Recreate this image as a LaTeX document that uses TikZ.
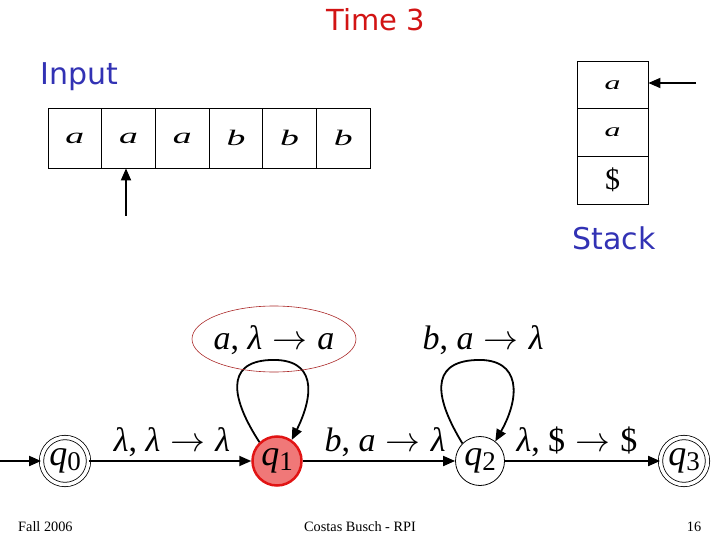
\documentclass[tikz,border=0pt]{standalone}
\usepackage{fontspec}
\usetikzlibrary{arrows.meta,shapes.geometric}
\newfontfamily\titlefont{DejaVu Sans}
\newfontfamily\serif{Liberation Serif}
\definecolor{titlered}{RGB}{210,20,20}
\definecolor{labelblue}{RGB}{50,50,180}
\definecolor{statefill}{RGB}{240,120,120}
\definecolor{stateborder}{RGB}{225,20,20}
\definecolor{ellred}{RGB}{170,40,40}
\newcommand{\tl}[1]{\scalebox{1.45}[0.85]{\itshape #1}}
\newcommand{\qs}[1]{{\itshape q}\raisebox{-0.3ex}{\fontsize{27}{27}\selectfont #1}}
\newcommand{\ar}{\hspace{0.3em}\scalebox{1.4}{\fontsize{24.88}{26}\selectfont$\rightarrow$}\hspace{0.3em}}
\tikzset{
  cell/.style={draw, line width=0.8pt, minimum width=53.7pt, minimum height=60pt, inner sep=0pt, font=\serif\fontsize{26}{28}\selectfont},
  scell/.style={draw, line width=0.8pt, minimum width=71pt, minimum height=47.7pt, inner sep=0pt, font=\serif\fontsize{22}{24}\selectfont},
  state/.style={circle, draw, line width=0.8pt, inner sep=0pt, minimum size=49pt, font=\serif\fontsize{36}{38}\selectfont},
  accstate/.style={state, double, double distance=3.5pt, minimum size=47pt},
  edge/.style={line width=1.8pt, -{Triangle[length=12pt,width=10pt]}},
  lbl/.style={font=\serif\fontsize{34}{36}\selectfont, inner sep=0pt},
  bigtext/.style={font=\titlefont\fontsize{30}{32}\selectfont, inner sep=0pt},
  foot/.style={font=\serif\fontsize{14.3}{16}\selectfont, inner sep=0pt}
}
\begin{document}
\begin{tikzpicture}[x=1pt,y=-1pt]
\useasboundingbox (0,0) rectangle (720,540);
\node[bigtext, text=titlered, font=\titlefont\fontsize{29}{31}\selectfont] (title) at (376,20) {Time 3};
\node[bigtext, text=labelblue, anchor=west] (input) at (40,77) {Input};
\node[bigtext, text=labelblue] (stack) at (614,238) {Stack};
% tape
\foreach \i/\s in {0/a,1/a,2/a,3/b,4/b,5/b} {
  \node[cell] (t\i) at ({48+26.85+53.7*\i},138) {\tl{\s}};
}
\coordinate (headtail) at (126,216);
\draw[edge] (headtail) -- (t1.south -| headtail);
% stack
\node[scell] (s0) at (612.5,84.8) {\tl{a}};
\node[scell] (s1) at (612.5,132.5) {\tl{a}};
\node[scell, font=\serif\fontsize{30}{32}\selectfont] (s2) at (612.5,180.2) {\$};
\coordinate (toptail) at (696,83);
\draw[edge] (toptail) -- (toptail -| s0.east);
% states
\node[accstate] (q0) at (65,461) {\qs{0}};
\node[state, fill=statefill, draw=stateborder, line width=2.5pt] (q1) at (277,461) {\qs{1}};
\node[state] (q2) at (480,461) {\qs{2}};
\node[accstate] (q3) at (684,461) {\qs{3}};
\coordinate (start) at (0,461);
\draw[edge] (start) -- (q0);
\draw[edge] (q0) -- (q1);
\draw[edge] (q1) -- (q2);
\draw[edge] (q2) -- (q3);
\node[lbl] (l01) at (172,442) {\textit{λ}, \textit{λ}\ar\textit{λ}};
\node[lbl] (l12) at (385,442) {\textit{b}, \textit{a}\ar\textit{λ}};
\node[lbl] (l23) at (577,442) {\textit{λ}, \$\ar\$};
\draw[edge] (q1.133) .. controls (232,400) and (224,362) .. (270,360)
                    .. controls (317,358) and (314,395) .. (q1.55);
\draw[edge] (q2.135) .. controls (436,400) and (428,362) .. (476,360)
                    .. controls (522,358) and (520,398) .. (q2.52);
\node[lbl] (l11) at (274,340) {\textit{a}, \textit{λ}\ar\textit{a}};
\node[ellipse, draw=ellred, line width=0.6pt, minimum width=164pt, minimum height=66pt] (hl) at (274,339) {};
\node[lbl] (l22) at (483,340) {\textit{b}, \textit{a}\ar\textit{λ}};
% footer
\node[foot, anchor=west] (f1) at (18,527) {Fall 2006};
\node[foot] (f2) at (360,527) {Costas Busch - RPI};
\node[foot] (f3) at (694,527) {16};
\end{tikzpicture}
\end{document}
